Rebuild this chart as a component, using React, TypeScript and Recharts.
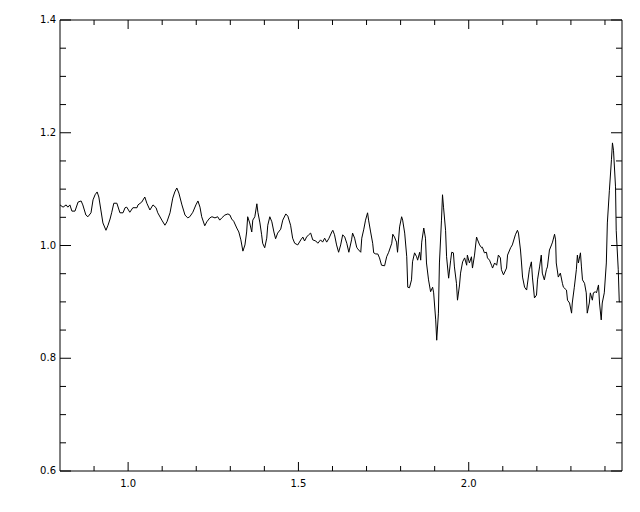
import { LineChart, Line, XAxis, YAxis } from "recharts";

const wave = [
  0.8, 0.809, 0.818, 0.823, 0.829, 0.835, 0.844, 0.853, 0.862, 0.867, 0.876, 0.882, 0.891, 0.897, 0.903, 0.909,
  0.914, 0.92, 0.926, 0.935, 0.941, 0.947, 0.952, 0.958, 0.967, 0.976, 0.985, 0.991, 0.996, 1.005, 1.014, 1.026,
  1.029, 1.04, 1.049, 1.055, 1.064, 1.073, 1.082, 1.087, 1.099, 1.108, 1.114, 1.123, 1.131, 1.137, 1.143, 1.149,
  1.158, 1.167, 1.175, 1.181, 1.19, 1.199, 1.205, 1.211, 1.216, 1.225, 1.231, 1.24, 1.246, 1.255, 1.263, 1.269,
  1.275, 1.284, 1.293, 1.299, 1.304, 1.31, 1.319, 1.325, 1.331, 1.337, 1.343, 1.348, 1.351, 1.357, 1.363, 1.366,
  1.372, 1.378, 1.381, 1.387, 1.392, 1.395, 1.401, 1.407, 1.41, 1.416, 1.422, 1.428, 1.433, 1.439, 1.448, 1.454,
  1.463, 1.469, 1.477, 1.483, 1.489, 1.498, 1.507, 1.513, 1.518, 1.524, 1.53, 1.536, 1.542, 1.551, 1.557, 1.565,
  1.571, 1.577, 1.583, 1.589, 1.598, 1.601, 1.606, 1.612, 1.618, 1.624, 1.63, 1.636, 1.642, 1.648, 1.656, 1.659,
  1.665, 1.671, 1.674, 1.683, 1.686, 1.692, 1.697, 1.703, 1.706, 1.712, 1.718, 1.721, 1.727, 1.733, 1.738, 1.744,
  1.753, 1.759, 1.765, 1.774, 1.777, 1.782, 1.788, 1.791, 1.797, 1.803, 1.806, 1.812, 1.818, 1.821, 1.826, 1.832,
  1.835, 1.841, 1.847, 1.85, 1.856, 1.859, 1.862, 1.868, 1.873, 1.876, 1.882, 1.888, 1.894, 1.897, 1.903, 1.906,
  1.911, 1.914, 1.92, 1.923, 1.926, 1.932, 1.935, 1.941, 1.947, 1.95, 1.955, 1.958, 1.964, 1.967, 1.973, 1.976,
  1.982, 1.988, 1.994, 1.996, 2.002, 2.008, 2.011, 2.017, 2.023, 2.026, 2.032, 2.038, 2.04, 2.046, 2.052, 2.055,
  2.061, 2.067, 2.07, 2.076, 2.082, 2.087, 2.093, 2.096, 2.102, 2.111, 2.114, 2.123, 2.128, 2.137, 2.143, 2.146,
  2.152, 2.155, 2.158, 2.164, 2.17, 2.172, 2.178, 2.184, 2.187, 2.193, 2.199, 2.202, 2.208, 2.213, 2.216, 2.222,
  2.228, 2.231, 2.237, 2.243, 2.246, 2.252, 2.255, 2.257, 2.263, 2.269, 2.275, 2.278, 2.287, 2.29, 2.296, 2.302,
  2.304, 2.31, 2.316, 2.319, 2.322, 2.328, 2.331, 2.334, 2.34, 2.345, 2.348, 2.354, 2.357, 2.363, 2.366, 2.372,
  2.375, 2.381, 2.384, 2.389, 2.392, 2.398, 2.404, 2.407, 2.413, 2.419, 2.422, 2.425, 2.431, 2.433, 2.439, 2.442,
  2.445,
];

const flux = [
  1.072, 1.068, 1.072, 1.068, 1.072, 1.061, 1.061, 1.077, 1.079, 1.072, 1.054, 1.051, 1.058, 1.081, 1.09, 1.095,
  1.086, 1.063, 1.04, 1.027, 1.036, 1.047, 1.059, 1.075, 1.075, 1.058, 1.058, 1.067, 1.068, 1.059, 1.067, 1.067,
  1.072, 1.077, 1.086, 1.075, 1.063, 1.072, 1.067, 1.058, 1.045, 1.036, 1.042, 1.058, 1.084, 1.095, 1.102, 1.093,
  1.072, 1.054, 1.049, 1.051, 1.059, 1.072, 1.079, 1.068, 1.051, 1.035, 1.042, 1.049, 1.051, 1.049, 1.051, 1.045,
  1.049, 1.054, 1.056, 1.054, 1.047, 1.043, 1.031, 1.024, 1.01, 0.99, 1.001, 1.024, 1.051, 1.04, 1.024, 1.045,
  1.051, 1.074, 1.059, 1.04, 1.019, 1.004, 0.996, 1.013, 1.036, 1.051, 1.042, 1.024, 1.012, 1.022, 1.029, 1.045,
  1.056, 1.052, 1.036, 1.013, 1.004, 1.001, 1.01, 1.015, 1.008, 1.015, 1.019, 1.022, 1.01, 1.008, 1.004, 1.01,
  1.006, 1.013, 1.006, 1.012, 1.024, 1.027, 1.019, 1.001, 0.988, 1.001, 1.019, 1.015, 1.004, 0.988, 1.01, 1.022,
  1.013, 0.997, 0.994, 0.988, 1.013, 1.029, 1.045, 1.058, 1.045, 1.024, 1.004, 0.987, 0.985, 0.985, 0.978, 0.965,
  0.964, 0.98, 0.988, 1.004, 1.02, 1.015, 1.006, 0.988, 1.033, 1.051, 1.045, 1.022, 0.98, 0.926, 0.925, 0.939,
  0.971, 0.987, 0.98, 0.974, 0.988, 0.974, 1.006, 1.031, 1.013, 0.969, 0.939, 0.918, 0.926, 0.916, 0.868, 0.832,
  0.88, 0.969, 1.045, 1.09, 1.068, 1.027, 0.98, 0.942, 0.974, 0.988, 0.987, 0.962, 0.933, 0.903, 0.93, 0.951,
  0.971, 0.978, 0.965, 0.983, 0.969, 0.98, 0.96, 0.983, 1.015, 1.01, 1.001, 0.996, 0.997, 0.987, 0.988, 0.978,
  0.974, 0.965, 0.96, 0.969, 0.965, 0.983, 0.978, 0.957, 0.948, 0.96, 0.983, 0.996, 1.001, 1.019, 1.027, 1.022,
  0.992, 0.969, 0.944, 0.926, 0.921, 0.93, 0.957, 0.971, 0.944, 0.907, 0.912, 0.939, 0.962, 0.983, 0.951, 0.939,
  0.957, 0.962, 0.992, 1.001, 1.006, 1.02, 1.01, 0.969, 0.944, 0.951, 0.933, 0.926, 0.921, 0.903, 0.898, 0.88,
  0.898, 0.926, 0.957, 0.983, 0.969, 0.987, 0.962, 0.939, 0.933, 0.916, 0.88, 0.898, 0.916, 0.903, 0.916, 0.918,
  0.916, 0.93, 0.898, 0.868, 0.898, 0.916, 0.969, 1.04, 1.098, 1.152, 1.182, 1.169, 1.104, 1.027, 0.957, 0.9,
  0.9,
];

const xTicks = [0.9, 1.0, 1.1, 1.2, 1.3, 1.4, 1.5, 1.6, 1.7, 1.8, 1.9, 2.0, 2.1, 2.2, 2.3, 2.4];
const yTicks = [
  0.6, 0.65, 0.7, 0.75, 0.8, 0.85, 0.9, 0.95, 1.0, 1.05, 1.1, 1.15, 1.2, 1.25, 1.3, 1.35, 1.4,
];

const data = wave.map((x, i) => ({ x, y: flux[i] }));

const font = { fontFamily: "DejaVu Sans, sans-serif", fontSize: 10, fill: "#000" };

const isMajorX = (v: number) => Math.abs(v * 2 - Math.round(v * 2)) < 1e-6;
const isMajorY = (v: number) => Math.abs(v * 5 - Math.round(v * 5)) < 1e-6;

const BottomTick = ({ x, y, payload }: any) => {
  const major = isMajorX(payload.value);
  return (
    <g>
      <line x1={x} y1={y} x2={x} y2={y - (major ? 9 : 5)} stroke="#000" />
      {major && (
        <text x={x} y={y + 16} textAnchor="middle" {...font}>
          {payload.value.toFixed(1)}
        </text>
      )}
    </g>
  );
};

const TopTick = ({ x, y, payload }: any) => (
  <line x1={x} y1={y} x2={x} y2={y + (isMajorX(payload.value) ? 9 : 5)} stroke="#000" />
);

const LeftTick = ({ x, y, payload }: any) => {
  const major = isMajorY(payload.value);
  return (
    <g>
      <line x1={x} y1={y} x2={x + (major ? 11 : 6)} y2={y} stroke="#000" />
      {major && (
        <text x={x - 4} y={y + 3} textAnchor="end" {...font}>
          {payload.value.toFixed(1)}
        </text>
      )}
    </g>
  );
};

const RightTick = ({ x, y, payload }: any) => (
  <line x1={x} y1={y} x2={x - (isMajorY(payload.value) ? 11 : 6)} y2={y} stroke="#000" />
);

const App = () => (
  <div style={{ position: "absolute", left: 0, top: 0, width: 640, height: 512, background: "#fff" }}>
    <LineChart width={640} height={512} data={data} margin={{ top: 0, right: 0, bottom: 0, left: 0 }}>
      <XAxis
        xAxisId="b"
        type="number"
        dataKey="x"
        domain={[0.8, 2.45]}
        allowDataOverflow
        ticks={xTicks}
        interval={0}
        height={41}
        tickSize={0}
        tickMargin={0}
        tickLine={false}
        tick={BottomTick}
        axisLine={{ stroke: "#000" }}
      />
      <XAxis
        xAxisId="t"
        orientation="top"
        type="number"
        dataKey="x"
        domain={[0.8, 2.45]}
        allowDataOverflow
        ticks={xTicks}
        interval={0}
        height={20}
        tickSize={0}
        tickMargin={0}
        tickLine={false}
        tick={TopTick}
        axisLine={{ stroke: "#000" }}
      />
      <YAxis
        yAxisId="l"
        type="number"
        domain={[0.6, 1.4]}
        allowDataOverflow
        ticks={yTicks}
        interval={0}
        width={60}
        tickSize={0}
        tickMargin={0}
        tickLine={false}
        tick={LeftTick}
        axisLine={{ stroke: "#000" }}
      />
      <YAxis
        yAxisId="r"
        orientation="right"
        type="number"
        domain={[0.6, 1.4]}
        allowDataOverflow
        ticks={yTicks}
        interval={0}
        width={18}
        tickSize={0}
        tickMargin={0}
        tickLine={false}
        tick={RightTick}
        axisLine={{ stroke: "#000" }}
      />
      <Line
        xAxisId="b"
        yAxisId="l"
        type="linear"
        dataKey="y"
        stroke="#000"
        strokeWidth={1}
        dot={false}
        isAnimationActive={false}
      />
    </LineChart>
  </div>
);

export default App;
